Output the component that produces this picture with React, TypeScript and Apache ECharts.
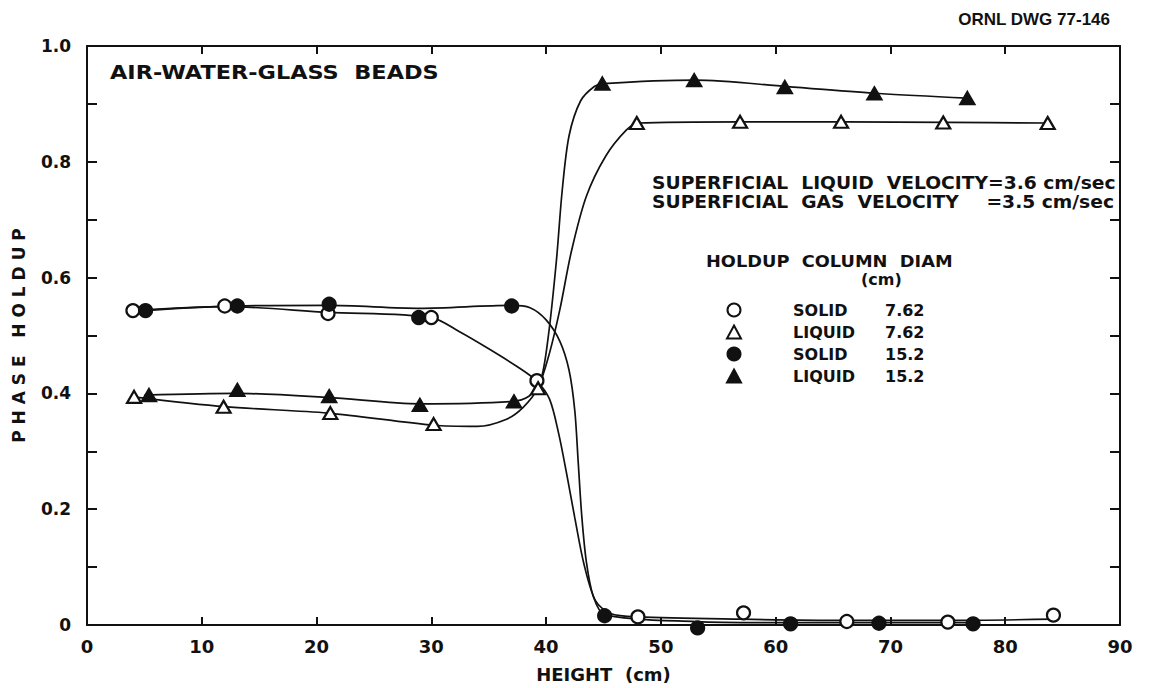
import React, { useEffect, useRef } from "react";
import * as echarts from "echarts";

// Measured points: [height (cm), phase holdup]
const solid762: [number, number][] = [
  [4, 0.543], [12, 0.551], [21, 0.538], [30, 0.531], [39.2, 0.422],
  [48, 0.014], [57.2, 0.021], [66.2, 0.006], [75, 0.005], [84.2, 0.017],
];
const liquid762: [number, number][] = [
  [4.1, 0.394], [11.9, 0.377], [21.2, 0.366], [30.2, 0.347], [39.3, 0.409],
  [47.9, 0.867], [56.9, 0.869], [65.7, 0.869], [74.6, 0.868], [83.7, 0.867],
];
const solid152: [number, number][] = [
  [5.1, 0.543], [13.1, 0.551], [21.1, 0.554], [28.9, 0.531], [37, 0.551],
  [45.1, 0.016], [53.2, -0.005], [61.3, 0.002], [69, 0.003], [77.2, 0.002],
];
const liquid152: [number, number][] = [
  [5.4, 0.397], [13.1, 0.406], [21.1, 0.395], [29, 0.38], [37.2, 0.386],
  [44.9, 0.935], [52.9, 0.941], [60.8, 0.929], [68.6, 0.918], [76.7, 0.91],
];

// Hand-faired curves
const solid762Curve: [number, number][] = [
  [4, 0.543], [12, 0.55], [21, 0.54], [30, 0.531], [32.5, 0.506], [35, 0.477],
  [37.5, 0.446], [39.2, 0.421], [40.3, 0.39], [41.1, 0.33], [41.8, 0.26],
  [42.5, 0.185], [43.3, 0.105], [44.3, 0.042], [45.6, 0.02], [48, 0.014],
  [57, 0.01], [66, 0.008], [75, 0.008], [84.2, 0.01],
];
const liquid762Curve: [number, number][] = [
  [4, 0.394], [12, 0.377], [21, 0.366], [30.2, 0.345], [34, 0.343],
  [36.5, 0.355], [38, 0.376], [39.3, 0.41], [40.3, 0.47], [41.2, 0.545],
  [42.2, 0.645], [43.5, 0.74], [45.2, 0.81], [47, 0.855], [48, 0.867],
  [57, 0.869], [66, 0.869], [75, 0.868], [83.7, 0.867],
];
const solid152Curve: [number, number][] = [
  [5, 0.543], [13, 0.551], [21, 0.552], [29, 0.547], [37, 0.552],
  [38.6, 0.548], [40, 0.527], [41.2, 0.49], [42, 0.44], [42.5, 0.37],
  [42.8, 0.28], [43.1, 0.19], [43.5, 0.11], [44.1, 0.05], [45.1, 0.018],
  [53, 0.006], [61, 0.004], [69, 0.004], [77.2, 0.004],
];
const liquid152Curve: [number, number][] = [
  [5, 0.397], [13, 0.4], [21, 0.393], [29, 0.382], [37, 0.386], [38.5, 0.395],
  [39.5, 0.42], [40.2, 0.5], [40.9, 0.63], [41.4, 0.75], [42, 0.845],
  [43, 0.905], [44.2, 0.93], [45, 0.935], [53, 0.941], [61, 0.93],
  [69, 0.918], [76.7, 0.91],
];

const xRange = { min: 0, max: 90, step: 10 };
const yRange = { min: 0, max: 1, step: 0.1 };

const legendNames = ["SOLID 7.62", "LIQUID 7.62", "SOLID 15.2", "LIQUID 15.2"];

const FONT = "DejaVu Sans";
const INK = "#111";

export default function App() {
  const ref = useRef<HTMLDivElement>(null);

  useEffect(() => {
    if (!ref.current) return;
    const chart = echarts.init(ref.current, undefined, { renderer: "svg" });

    const curve = (data: [number, number][]) => ({
      type: "line",
      data,
      smooth: 0.3,
      symbol: "none",
      silent: true,
      z: 1,
      lineStyle: { color: INK, width: 1.7 },
    });

    const marks = (
      name: string,
      data: [number, number][],
      symbol: string,
      filled: boolean
    ) => ({
      type: "scatter",
      name,
      data,
      symbol,
      symbolSize: symbol === "circle" ? 13 : [14, 12],
      clip: false,
      z: 3,
      itemStyle: {
        color: filled ? INK : "#fff",
        borderColor: INK,
        borderWidth: 2.2,
        opacity: 1,
      },
    });

    const tickAxis = (position: string, isX: boolean) => ({
      type: "value",
      position,
      min: isX ? xRange.min : yRange.min,
      max: isX ? xRange.max : yRange.max,
      interval: isX ? xRange.step : yRange.step,
      splitLine: { show: false },
      axisLine: { show: true, onZero: false, lineStyle: { color: INK, width: 2 } },
      axisTick: {
        show: true,
        inside: true,
        length: isX ? 8 : 10,
        lineStyle: { color: INK, width: 2 },
      },
      axisLabel: { show: false },
    });

    const textStyle = (size: number) => `bold ${size}px "${FONT}"`;

    chart.setOption({
      animation: false,
      backgroundColor: "#fff",
      grid: { left: 87, right: 30, top: 46, bottom: 63 },
      xAxis: [
        {
          ...tickAxis("bottom", true),
          name: "HEIGHT  (cm)",
          nameLocation: "middle",
          nameGap: 40,
          nameTextStyle: { color: INK, fontFamily: FONT, fontWeight: "bold", fontSize: 18 },
          axisLabel: {
            show: true,
            color: INK,
            fontFamily: FONT,
            fontWeight: "bold",
            fontSize: 18,
            margin: 12,
          },
        },
        tickAxis("top", true),
      ],
      yAxis: [
        {
          ...tickAxis("left", false),
          name: "P H A S E   H O L D U P",
          nameLocation: "middle",
          nameGap: 60,
          nameRotate: 90,
          nameTextStyle: { color: INK, fontFamily: FONT, fontWeight: "bold", fontSize: 17 },
          axisLabel: {
            show: true,
            color: INK,
            fontFamily: FONT,
            fontWeight: "bold",
            fontSize: 17,
            margin: 16,
            formatter: (v: number) => {
              const k = Math.round(v * 10);
              if (k % 2) return "";
              return k === 0 ? "0" : v.toFixed(1);
            },
          },
        },
        tickAxis("right", false),
      ],
      legend: {
        data: legendNames,
        orient: "vertical",
        left: 721,
        top: 296,
        itemGap: 4,
        itemWidth: 14,
        itemHeight: 13,
        textStyle: {
          color: INK,
          fontFamily: FONT,
          fontWeight: "bold",
          fontSize: 16,
          lineHeight: 18,
          rich: {
            s: { width: 47 },
            a: { width: 92, fontFamily: FONT, fontWeight: "bold", fontSize: 16, color: INK },
            b: { fontFamily: FONT, fontWeight: "bold", fontSize: 16, color: INK },
          },
        },
        formatter: (name: string) => {
          const [a, b] = name.split(" ");
          return `{s|}{a|${a}}{b|${b}}`;
        },
      },
      graphic: [
        {
          type: "text",
          x: 1110,
          y: 19,
          style: {
            text: "ORNL DWG 77-146",
            fill: INK,
            font: `bold 17px "Liberation Sans"`,
            textAlign: "right",
            textVerticalAlign: "middle",
          },
        },
        {
          type: "text",
          x: 110,
          y: 72,
          scaleX: 1.12,
          style: {
            text: "AIR-WATER-GLASS  BEADS",
            fill: INK,
            font: textStyle(20),
            textVerticalAlign: "middle",
          },
        },
        {
          type: "text",
          x: 652,
          y: 183,
          scaleX: 1.1,
          style: {
            text: "SUPERFICIAL  LIQUID  VELOCITY=3.6 cm/sec",
            fill: INK,
            font: textStyle(17),
            textVerticalAlign: "middle",
          },
        },
        {
          type: "text",
          x: 652,
          y: 202,
          scaleX: 1.1,
          style: {
            text: "SUPERFICIAL  GAS  VELOCITY",
            fill: INK,
            font: textStyle(17),
            textVerticalAlign: "middle",
          },
        },
        {
          type: "text",
          x: 1114,
          y: 202,
          scaleX: 1.1,
          style: {
            text: "=3.5 cm/sec",
            fill: INK,
            font: textStyle(17),
            textAlign: "right",
            textVerticalAlign: "middle",
          },
        },
        {
          type: "text",
          x: 706,
          y: 261,
          scaleX: 1.11,
          style: {
            text: "HOLDUP  COLUMN  DIAM",
            fill: INK,
            font: textStyle(16),
            textVerticalAlign: "middle",
          },
        },
        {
          type: "text",
          x: 861,
          y: 279,
          style: {
            text: "(cm)",
            fill: INK,
            font: textStyle(16),
            textVerticalAlign: "middle",
          },
        },
      ],
      series: [
        curve(solid762Curve),
        curve(liquid762Curve),
        curve(solid152Curve),
        curve(liquid152Curve),
        marks("SOLID 7.62", solid762, "circle", false),
        marks("LIQUID 7.62", liquid762, "triangle", false),
        marks("SOLID 15.2", solid152, "circle", true),
        marks("LIQUID 15.2", liquid152, "triangle", true),
      ],
    });

    return () => chart.dispose();
  }, []);

  return (
    <div
      ref={ref}
      style={{ position: "fixed", left: 0, top: 0, width: 1150, height: 688, background: "#fff" }}
    />
  );
}
